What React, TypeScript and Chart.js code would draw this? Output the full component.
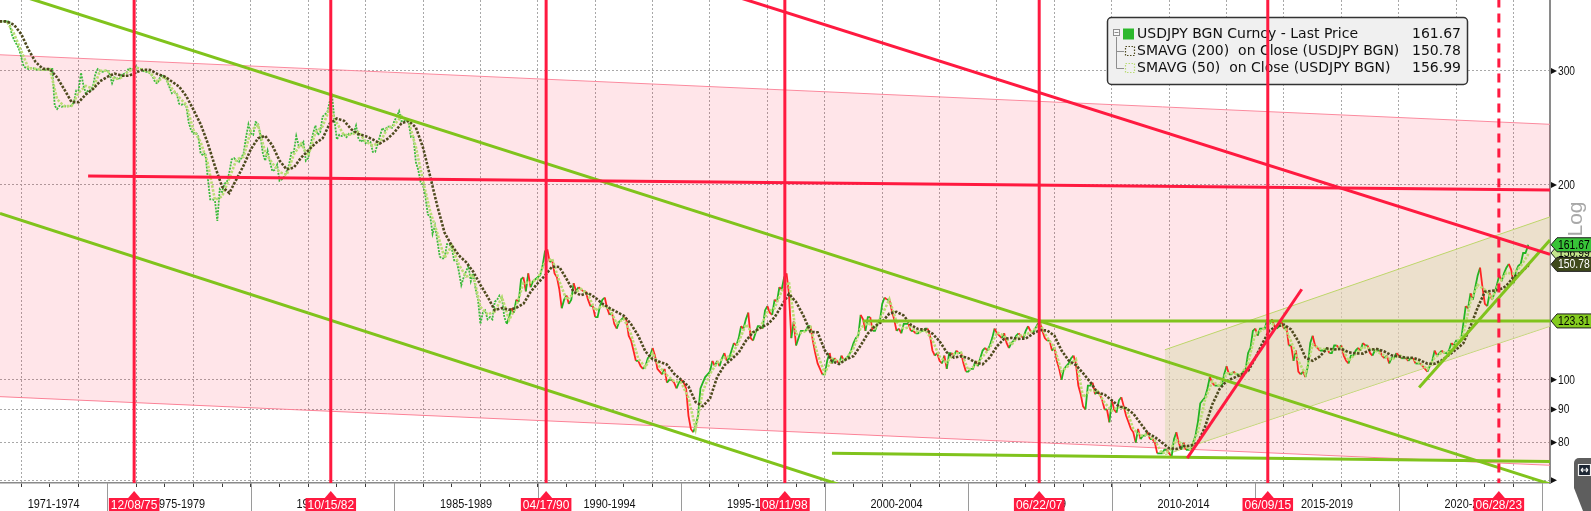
import React, { useEffect, useRef } from 'react';
import { Chart, registerables } from 'chart.js';

Chart.register(...registerables);

// ---------------- axes ----------------
const X_MIN = 1971.26;
const X_MAX = 2025.27;
const Y_MIN = 69.3;
const Y_MAX = 386;

const yTicks = [70, 80, 90, 100, 200, 300];
const yTickLabels = ['', '80', '90', '100', '200', '300'];

const periodBounds = [1971, 1975, 1980, 1985, 1990, 1995, 2000, 2005, 2010, 2015, 2020, 2025];
const periodLabels = ['1971-1974', '1975-1979', '1980-1984', '1985-1989', '1990-1994', '1995-1999', '2000-2004', '2005-2009', '2010-2014', '2015-2019', '2020-2024'];

const eventLabels = ['12/08/75', '10/15/82', '04/17/90', '08/11/98', '06/22/07', '06/09/15', '06/28/23'];
const eventYears = [1975.934, 1982.786, 1990.29, 1998.608, 2007.471, 2015.436, 2023.488];
const eventDashed = [false, false, false, false, false, false, true];

// ---------------- USDJPY month-end closes (from Mar 1971) ----------------
const PRICE_FIRST_MONTH = 1971.25;
const price1971to1979 = [
  357.7, 357.7, 357.7, 357.6, 357.4, 342, 335, 330, 325, 315,
  305, 303, 302, 303, 303, 301, 302, 301, 301, 301, 302, 302,
  302, 265, 262, 265, 264, 265, 264, 265, 265, 268, 280, 280,
  298, 285, 277, 280, 280, 284, 297, 302, 300, 299, 300, 301,
  296, 287, 293, 292, 291, 296, 297, 298, 303, 302, 302, 305,
  303, 302, 300, 299, 299, 297, 294, 288, 287, 293, 296, 293,
  289, 283, 277, 278, 277, 267, 266, 267, 265, 250, 243, 240,
  241, 238, 224, 222, 224, 205, 190, 190, 189, 176, 197, 195,
  201, 202, 209, 219, 220, 218, 217, 220, 224, 237, 248, 240,
];
const price1980to1989 = [
  239, 250, 249, 239, 224, 218, 226, 217, 210, 211, 215, 203,
  204, 206, 210, 215, 225, 225, 238, 230, 230, 233, 218, 220,
  231, 240, 247, 239, 241, 255, 257, 259, 269, 274, 251, 235,
  239, 238, 239, 237, 240, 240, 241, 247, 236, 233, 235, 232,
  234, 233, 225, 225, 231, 238, 245, 242, 246, 246, 245, 251,
  255, 260, 251, 251, 252, 249, 237, 237, 217, 211, 202, 200,
  192, 180, 179, 168, 173, 164, 155, 154, 154, 162, 162, 160,
  153, 153, 147, 140, 144, 147, 150, 142, 146, 138, 133, 122,
  127, 128, 124, 125, 124, 132, 133, 135, 134, 125, 122, 125,
  129, 127, 133, 132, 143, 144, 137, 146, 139, 142, 143, 144,
];
const price1990to1999 = [
  145, 150, 158, 159, 152, 153, 146, 144, 138, 129, 133, 135,
  131, 133, 141, 137, 139, 138, 137, 137, 133, 130, 130, 125,
  125, 130, 133, 134, 129, 126, 127, 122, 120, 123, 124, 125,
  124, 117, 115, 111, 107, 107, 105, 104, 105, 108, 109, 112,
  109, 104, 103, 102, 104, 99, 100, 100, 99, 97, 99, 100,
  99, 97, 88, 84, 83, 85, 88, 97, 99, 101, 102, 103,
  107, 105, 107, 105, 108, 110, 107, 108, 111, 114, 113, 116,
  121, 120, 124, 127, 116, 115, 118, 121, 121, 120, 128, 130,
  127, 126, 133, 132, 139, 138, 144, 146, 136, 116, 123, 113,
  116, 119, 119, 119, 121, 121, 115, 110, 106, 104, 102, 102,
];
const price2000to2009 = [
  107, 110, 106, 108, 107, 106, 109, 107, 108, 109, 111, 114,
  116, 117, 126, 124, 119, 125, 125, 119, 119, 122, 123, 131,
  134, 133, 133, 128, 124, 119, 120, 118, 122, 122, 122, 119,
  119, 118, 118, 119, 119, 120, 120, 117, 111, 109, 110, 107,
  106, 109, 104, 110, 110, 109, 111, 110, 110, 106, 103, 103,
  104, 104, 107, 105, 108, 111, 112, 111, 113, 116, 120, 118,
  117, 116, 118, 114, 112, 114, 115, 117, 118, 117, 116, 119,
  121, 119, 118, 120, 122, 123, 119, 116, 115, 115, 111, 112,
  107, 104, 100, 104, 105, 106, 108, 109, 106, 98, 95, 91,
  90, 98, 98, 99, 95, 96, 95, 93, 90, 90, 86, 93,
];
const price2010to2019 = [
  90, 89, 93, 94, 91, 88, 86, 84, 83, 80, 84, 81,
  82, 82, 83, 81, 81, 80, 77, 77, 77, 78, 78, 77,
  76, 81, 83, 80, 78, 80, 78, 78, 78, 80, 82, 86,
  92, 93, 94, 97, 101, 99, 98, 98, 98, 98, 102, 105,
  102, 102, 103, 102, 102, 101, 103, 104, 110, 112, 119, 120,
  117, 120, 120, 120, 124, 122, 124, 121, 120, 121, 123, 120,
  121, 113, 113, 107, 111, 103, 102, 103, 101, 105, 114, 117,
  113, 112, 111, 111, 111, 112, 110, 110, 113, 113, 112, 113,
  109, 107, 106, 109, 109, 111, 112, 111, 114, 113, 113, 110,
  109, 111, 111, 111, 109, 108, 109, 106, 108, 108, 110, 109,
];
const price2020to2024 = [
  108, 108, 108, 107, 108, 108, 106, 106, 106, 105, 104, 103,
  105, 107, 111, 109, 110, 111, 110, 110, 111, 114, 113, 115,
  115, 115, 122, 130, 129, 136, 133, 139, 145, 149, 139, 131,
  130, 136, 133, 136, 140, 145, 142, 146, 149, 151, 148, 141,
  147, 150, 151, 157, 157, 161,
];
const lastDate = 2024.51;
const lastPrice = 161.67;

// ---------------- moving averages, quarter-end (from Mar 1971) ----------------
const SMA_FIRST_QUARTER = 1971.25;
const sma200Quarterly = [
  357.7, 357.7, 353.4, 341.9, 323.8, 309.7, 302.3, 301.8, 293.1, 280.9, 268.6, 268.4,
  275.8, 281.3, 289.2, 293.7, 297.2, 295.0, 294.8, 298.4, 301.3, 301.0, 296.6, 294.0,
  288.9, 283.7, 274.3, 261.4, 248.2, 231.9, 213.7, 198.7, 194.3, 204.1, 214.4, 227.0,
  236.0, 238.2, 230.2, 218.1, 211.3, 212.7, 220.3, 226.0, 231.9, 236.0, 248.7, 253.3,
  251.2, 243.7, 239.7, 237.9, 235.1, 231.8, 235.4, 241.0, 249.0, 251.1, 245.4, 228.4,
  206.1, 185.4, 168.8, 161.3, 155.6, 152.0, 146.9, 140.2, 134.4, 128.1, 129.1, 128.3,
  129.2, 131.1, 136.7, 141.1, 144.9, 149.6, 149.4, 143.2, 136.7, 135.1, 136.2, 134.0,
  131.1, 129.1, 127.3, 125.6, 121.9, 117.0, 110.6, 107.6, 106.6, 105.6, 102.2, 100.0,
  97.7, 92.4, 91.1, 93.6, 101.0, 105.3, 107.6, 110.2, 114.9, 118.4, 120.3, 121.8,
  124.9, 130.3, 135.7, 131.9, 125.8, 118.6, 118.4, 111.1, 106.9, 105.8, 107.6, 108.8,
  113.0, 117.9, 121.1, 123.0, 126.6, 127.4, 125.7, 121.6, 119.8, 119.6, 117.9, 114.7,
  110.3, 108.2, 108.8, 108.0, 106.4, 105.7, 108.3, 112.7, 115.7, 116.1, 115.7, 115.8,
  117.8, 119.4, 119.2, 117.0, 111.0, 107.1, 105.4, 102.4, 99.2, 95.6, 94.9, 93.0,
  91.0, 90.4, 88.7, 85.7, 82.8, 81.6, 80.0, 78.4, 78.2, 79.0, 79.1, 80.0,
  84.6, 91.6, 96.7, 99.6, 100.7, 101.9, 103.2, 108.1, 113.9, 119.3, 120.9, 121.7,
  119.6, 114.7, 108.2, 107.0, 108.7, 111.8, 111.4, 111.7, 110.3, 109.9, 109.8, 111.3,
  111.6, 110.6, 109.1, 108.7, 108.2, 108.2, 107.2, 105.9, 105.9, 107.2, 109.3, 111.4,
  113.9, 121.0, 129.3, 136.8, 137.2, 137.7, 139.7, 144.2, 146.5, 149.9,
];
const sma50Quarterly = [
  357.7, 357.7, 342.3, 322.0, 303.0, 302.2, 301.2, 301.8, 271.2, 264.6, 264.8, 277.6,
  284.4, 281.6, 300.2, 300.2, 291.2, 293.2, 299.8, 303.2, 301.4, 298.2, 288.8, 294.2,
  281.8, 273.2, 266.0, 243.2, 233.0, 216.0, 189.6, 192.0, 204.6, 219.0, 221.0, 242.6,
  247.4, 224.6, 216.0, 209.4, 207.2, 223.0, 231.6, 221.8, 241.0, 246.2, 262.6, 249.2,
  238.6, 239.4, 241.4, 233.4, 230.0, 232.6, 244.2, 247.6, 255.4, 250.6, 229.0, 203.0,
  182.0, 168.4, 154.2, 161.2, 150.6, 144.4, 145.2, 129.6, 126.2, 127.4, 134.2, 123.8,
  129.8, 141.2, 141.4, 143.2, 152.2, 153.8, 142.0, 133.0, 135.8, 138.2, 135.4, 128.0,
  130.2, 128.8, 122.2, 124.2, 117.6, 107.8, 104.6, 110.0, 104.6, 101.6, 99.6, 99.0,
  93.8, 84.0, 96.0, 102.2, 106.2, 108.2, 109.0, 114.4, 121.8, 117.8, 120.4, 127.2,
  129.0, 137.2, 141.6, 117.6, 118.4, 120.6, 109.4, 102.4, 107.8, 106.8, 107.8, 111.8,
  120.4, 122.4, 120.2, 126.0, 133.2, 122.8, 120.0, 120.8, 118.2, 119.4, 115.2, 108.6,
  106.4, 109.6, 110.2, 103.6, 105.2, 108.6, 112.0, 118.4, 117.0, 113.2, 117.0, 117.4,
  119.0, 122.0, 116.2, 112.2, 103.0, 105.2, 107.6, 94.0, 96.4, 96.2, 92.2, 89.6,
  90.8, 90.4, 84.0, 82.0, 82.4, 80.6, 77.0, 77.6, 80.8, 79.2, 78.0, 83.2,
  93.2, 99.4, 98.0, 102.4, 102.4, 101.6, 106.2, 118.0, 119.4, 122.4, 121.2, 121.4,
  114.6, 107.0, 102.0, 113.4, 111.8, 111.4, 111.2, 112.6, 107.0, 109.8, 112.4, 111.8,
  110.6, 109.0, 107.4, 109.2, 108.0, 107.8, 106.0, 103.8, 108.2, 110.2, 110.4, 114.0,
  117.8, 132.0, 140.2, 137.8, 133.6, 141.2, 146.4, 145.8, 149.8, 155.9,
];
const lastSma200 = 150.78;
const lastSma50 = 156.99;

// ---------------- drawn trend lines: [year, price] ----------------
const pinkChannelTop = [[1971.26, 317.7], [2025.27, 248.1]];
const pinkChannelBottom = [[1971.26, 94.2], [2025.27, 73.8]];
const tanChannelTop = [[2011.85, 111.3], [2025.27, 178.5]];
const tanChannelBottom = [[2011.85, 76.6], [2025.27, 121.0]];
const greenUpperTrend = [[1971.26, 401.3], [2025.27, 69.06]];
const greenLowerTrend = [[1971.26, 180.7], [2001.0, 67.8]];
const greenResistance = [[2001.33, 123.31], [2025.27, 123.31]];
const greenFloor = [[2000.25, 77.06], [2025.27, 74.8]];
const greenRecentTrend = [[2020.71, 97.3], [2025.27, 164.5]];
const redFlatLine = [[1974.33, 206.4], [2025.27, 196.5]];
const redDownTrend = [[1995.65, 406.9], [2025.27, 156.2]];
const redRallyTrend = [[2012.63, 75.7], [2016.62, 138.0]];

// ---------------- legend & tags ----------------
const legendLabels = [
  'USDJPY BGN Curncy - Last Price',
  'SMAVG (200)  on Close (USDJPY BGN)',
  'SMAVG (50)  on Close (USDJPY BGN)',
];
const legendValues = ['161.67', '150.78', '156.99'];
const tagValues = [123.31, 156.99, 150.78, 161.67];
const tagFill = ['#84cc1f', '#c4e58c', '#3f4a1c', '#38c338'];
const tagText = ['#000', '#000', '#fff', '#000'];

// ---------------- colours ----------------
const RED = '#ff1a40';
const GREEN = '#80c31c';
const UP = '#22b422';
const DOWN = '#ff2424';
const EARLY = '#3cba3c';
const SMA200_COLOR = '#4e4a1e';
const SMA50_COLOR = '#b9dc74';

const toXY = (pairs: number[][]) => pairs.map(([x, y]) => ({ x, y }));

const allMonthly = [...price1971to1979, ...price1980to1989, ...price1990to1999, ...price2000to2009, ...price2010to2019, ...price2020to2024];
const priceData = [...allMonthly.map((v, i) => ({ x: PRICE_FIRST_MONTH + i / 12, y: v })), { x: lastDate, y: lastPrice }];
const sma200Data = [...sma200Quarterly.map((v, i) => ({ x: SMA_FIRST_QUARTER + i * 0.25, y: v })), { x: lastDate, y: lastSma200 }];
const sma50Data = [...sma50Quarterly.map((v, i) => ({ x: SMA_FIRST_QUARTER + i * 0.25, y: v })), { x: lastDate, y: lastSma50 }];

const yearTicks: number[] = [];
for (let y = 1972; y <= 2025; y++) yearTicks.push(y);

function lineDs(pairs: number[][], color: string, width: number, order: number, extra: any = {}) {
  return {
    type: 'line',
    data: toXY(pairs),
    borderColor: color,
    borderWidth: width,
    pointRadius: 0,
    fill: false,
    tension: 0,
    order,
    ...extra,
  };
}

function fontStr(size: number, fam = '"Liberation Sans", Arial, sans-serif') {
  return `${size}px ${fam}`;
}

function drawText(ctx: CanvasRenderingContext2D, text: string, x: number, y: number, size: number, sx: number, align: CanvasTextAlign, color: string) {
  ctx.save();
  ctx.translate(x, y);
  ctx.scale(sx, 1);
  ctx.font = fontStr(size);
  ctx.fillStyle = color;
  ctx.textAlign = align;
  ctx.textBaseline = 'middle';
  ctx.fillText(text, 0, 0);
  ctx.restore();
}

function drawLegendBox(ctx: CanvasRenderingContext2D) {
  const x0 = 1107.5, y0 = 17.5, w = 360, h = 67, r = 4;
  ctx.save();
  ctx.beginPath();
  ctx.moveTo(x0 + r, y0);
  ctx.lineTo(x0 + w - r, y0);
  ctx.arcTo(x0 + w, y0, x0 + w, y0 + r, r);
  ctx.lineTo(x0 + w, y0 + h - r);
  ctx.arcTo(x0 + w, y0 + h, x0 + w - r, y0 + h, r);
  ctx.lineTo(x0 + r, y0 + h);
  ctx.arcTo(x0, y0 + h, x0, y0 + h - r, r);
  ctx.lineTo(x0, y0 + r);
  ctx.arcTo(x0, y0, x0 + r, y0, r);
  ctx.closePath();
  ctx.fillStyle = '#f0f0f0';
  ctx.fill();
  ctx.lineWidth = 1.5;
  ctx.strokeStyle = '#333';
  ctx.stroke();

  const rows = [34, 51, 68];
  ctx.strokeStyle = '#8e8e8e';
  ctx.lineWidth = 1;
  ctx.beginPath();
  ctx.moveTo(1116.5, 37); ctx.lineTo(1116.5, 68.5);
  ctx.moveTo(1116.5, 51.5); ctx.lineTo(1124, 51.5);
  ctx.moveTo(1116.5, 68.5); ctx.lineTo(1124, 68.5);
  ctx.stroke();
  ctx.fillStyle = '#f8f8f8';
  ctx.fillRect(1113.5, 29.5, 6, 6);
  ctx.strokeRect(1113.5, 29.5, 6, 6);
  ctx.beginPath(); ctx.moveTo(1114.5, 32.5); ctx.lineTo(1118.5, 32.5); ctx.stroke();

  ctx.fillStyle = '#2cb82c';
  ctx.fillRect(1123, 28.5, 11, 11);
  ctx.lineWidth = 1.2;
  ctx.setLineDash([1.5, 1.5]);
  ctx.strokeStyle = SMA200_COLOR;
  ctx.strokeRect(1125.5, 46.5, 9, 9);
  ctx.strokeStyle = SMA50_COLOR;
  ctx.strokeRect(1125.5, 63.5, 9, 9);
  ctx.setLineDash([]);

  ctx.fillStyle = '#111';
  ctx.font = fontStr(14, '"DejaVu Sans", sans-serif');
  ctx.textAlign = 'left';
  ctx.textBaseline = 'middle';
  legendLabels.forEach((t, i) => ctx.fillText(t, 1137, rows[i]));
  legendValues.forEach((t, i) => ctx.fillText(t, 1412, rows[i]));
  ctx.restore();
}

function drawOverlay(chart: any) {
  const ctx: CanvasRenderingContext2D = chart.ctx;
  const xs = chart.scales.x;
  const ys = chart.scales.y;
  const area = chart.chartArea;
  const H = chart.height;
  const W = chart.width;
  ctx.save();

  // y tick arrows and labels
  ctx.fillStyle = '#111';
  yTicks.forEach((v, i) => {
    const py = ys.getPixelForValue(v);
    ctx.fillStyle = '#111';
    ctx.beginPath();
    ctx.moveTo(area.right + 1, py - 3);
    ctx.lineTo(area.right + 7, py);
    ctx.lineTo(area.right + 1, py + 3);
    ctx.closePath();
    ctx.fill();
    if (yTickLabels[i]) drawText(ctx, yTickLabels[i], area.right + 8, py + 0.5, 12, 0.85, 'left', '#111');
  });

  // period separators
  ctx.strokeStyle = '#9a9a9a';
  ctx.lineWidth = 1;
  periodBounds.slice(1).forEach((b) => {
    const px = Math.round(xs.getPixelForValue(b)) + 0.5;
    ctx.beginPath();
    ctx.moveTo(px, area.bottom);
    ctx.lineTo(px, H);
    ctx.stroke();
  });

  // period labels
  periodLabels.forEach((lab, i) => {
    const a = Math.max(periodBounds[i], X_MIN);
    const b = Math.min(periodBounds[i + 1], X_MAX);
    const px = (xs.getPixelForValue(a) + xs.getPixelForValue(b)) / 2;
    drawText(ctx, lab, px, 505, 12.5, 0.87, 'center', '#111');
  });

  // event flags
  ctx.font = fontStr(13);
  eventYears.forEach((d, i) => {
    const px = xs.getPixelForValue(d);
    const tw = ctx.measureText(eventLabels[i]).width * 0.92 + 4;
    ctx.fillStyle = RED;
    ctx.beginPath();
    ctx.moveTo(px, 491);
    ctx.lineTo(px + 6, 498);
    ctx.lineTo(px - 6, 498);
    ctx.closePath();
    ctx.fill();
    ctx.fillRect(px - tw / 2, 498, tw, H - 498);
    drawText(ctx, eventLabels[i], px, 505, 13, 0.92, 'center', '#fff');
    ctx.font = fontStr(13);
  });

  // value tags
  tagValues.forEach((v, i) => {
    const py = ys.getPixelForValue(v);
    const x = area.right + 1;
    const h = 14;
    ctx.beginPath();
    ctx.moveTo(x, py);
    ctx.lineTo(x + 6, py - h / 2);
    ctx.lineTo(W + 2, py - h / 2);
    ctx.lineTo(W + 2, py + h / 2);
    ctx.lineTo(x + 6, py + h / 2);
    ctx.closePath();
    ctx.fillStyle = tagFill[i];
    ctx.fill();
    ctx.strokeStyle = '#1e1e1e';
    ctx.lineWidth = 1;
    ctx.stroke();
    drawText(ctx, v.toFixed(2), x + 7, py + 0.5, 13, 0.8, 'left', tagText[i]);
  });

  // "Log" marker
  ctx.save();
  ctx.translate(1576, 219);
  ctx.rotate(-Math.PI / 2);
  ctx.fillStyle = '#a8a8a8';
  ctx.font = fontStr(21);
  ctx.textAlign = 'center';
  ctx.textBaseline = 'middle';
  ctx.fillText('Log', 0, 0);
  ctx.restore();

  // corner button
  ctx.fillStyle = '#5e5e5e';
  ctx.beginPath();
  ctx.moveTo(W, 458);
  ctx.lineTo(1579, 458);
  ctx.arcTo(1574, 458, 1574, 463, 5);
  ctx.lineTo(1574, 488);
  ctx.lineTo(1583, H);
  ctx.lineTo(W, H);
  ctx.closePath();
  ctx.fill();
  ctx.fillStyle = '#1d2633';
  ctx.strokeStyle = '#f2f2f2';
  ctx.lineWidth = 1.2;
  ctx.beginPath();
  ctx.rect(1578.5, 464.5, 12, 11);
  ctx.fill();
  ctx.stroke();
  ctx.beginPath();
  ctx.moveTo(1581, 470); ctx.lineTo(1588, 470);
  ctx.moveTo(1581, 470); ctx.lineTo(1583, 468);
  ctx.moveTo(1581, 470); ctx.lineTo(1583, 472);
  ctx.moveTo(1588, 470); ctx.lineTo(1586, 468);
  ctx.moveTo(1588, 470); ctx.lineTo(1586, 472);
  ctx.stroke();

  ctx.restore();
}

const overlayPlugin = {
  id: 'bbgOverlay',
  beforeDatasetsDraw(chart: any) {
    drawLegendBox(chart.ctx);
  },
  afterDraw(chart: any) {
    drawOverlay(chart);
  },
};

export default function App() {
  const canvasRef = useRef<HTMLCanvasElement>(null);

  useEffect(() => {
    const canvas = canvasRef.current;
    if (!canvas) return;

    const verticals = eventYears.map((d, i) => ({
      type: 'line',
      data: [{ x: d, y: 40 }, { x: d, y: 900 }],
      borderColor: RED,
      borderWidth: 3,
      borderDash: eventDashed[i] ? [9, 6] : [],
      pointRadius: 0,
      fill: false,
      order: 5,
    }));

    const datasets: any[] = [
      lineDs(pinkChannelTop, '#fb8a9e', 1, 100, { fill: '+1', backgroundColor: 'rgba(255,0,40,0.1)' }),
      lineDs(pinkChannelBottom, '#fb8a9e', 1, 101),
      lineDs(tanChannelTop, '#bdd66a', 1, 90, { fill: '+1', backgroundColor: 'rgba(224,220,186,0.62)' }),
      lineDs(tanChannelBottom, '#bdd66a', 1, 91),
      {
        type: 'line',
        data: priceData,
        borderWidth: 1.8,
        borderColor: UP,
        pointRadius: 0,
        tension: 0,
        fill: false,
        order: 50,
        segment: {
          borderColor: (c: any) => {
            const a = priceData[c.p0DataIndex];
            const b = priceData[c.p1DataIndex];
            if (a.x < 1988.9) return EARLY;
            return b.y >= a.y ? UP : DOWN;
          },
          borderDash: (c: any) => (priceData[c.p0DataIndex].x < 1988.9 ? [2, 1.2] : []),
        },
      },
      {
        type: 'line',
        data: sma50Data,
        borderColor: SMA50_COLOR,
        borderWidth: 2.6,
        borderDash: [2.5, 1.5],
        pointRadius: 0,
        tension: 0,
        fill: false,
        order: 45,
      },
      {
        type: 'line',
        data: sma200Data,
        borderColor: SMA200_COLOR,
        borderWidth: 2.6,
        borderDash: [2.5, 1.5],
        pointRadius: 0,
        tension: 0,
        fill: false,
        order: 40,
      },
      lineDs(greenUpperTrend, GREEN, 3, 20),
      lineDs(greenLowerTrend, GREEN, 3, 20),
      lineDs(greenResistance, GREEN, 3, 20),
      lineDs(greenFloor, GREEN, 3, 20),
      lineDs(greenRecentTrend, GREEN, 3, 20),
      lineDs(redFlatLine, RED, 3, 15),
      lineDs(redDownTrend, RED, 3, 15),
      lineDs(redRallyTrend, RED, 3, 15),
      ...verticals,
    ];

    const chart = new Chart(canvas, {
      type: 'line',
      data: { datasets },
      options: {
        animation: false,
        responsive: true,
        maintainAspectRatio: false,
        events: [],
        layout: { padding: 0, autoPadding: false },
        plugins: {
          legend: { display: false },
          tooltip: { enabled: false },
          title: { display: false },
        },
        scales: {
          x: {
            type: 'linear',
            position: 'bottom',
            min: X_MIN,
            max: X_MAX,
            afterBuildTicks: (s: any) => {
              s.ticks = yearTicks.map((v) => ({ value: v }));
            },
            afterFit: (s: any) => {
              s.height = 28;
              s.paddingLeft = 0;
              s.paddingRight = 0;
            },
            ticks: { display: false },
            grid: {
              color: (c: any) => (c.tick && Math.round(c.tick.value) % 2 === 0 ? '#a8a8a8' : 'rgba(0,0,0,0)'),
              lineWidth: 1,
              drawTicks: true,
              tickLength: 4,
              tickColor: '#3a3a3a',
              tickWidth: 1,
            },
            border: { display: true, color: '#8a8a8a', width: 1.5, dash: [2, 2] },
          },
          y: {
            type: 'logarithmic',
            position: 'right',
            min: Y_MIN,
            max: Y_MAX,
            afterBuildTicks: (s: any) => {
              s.ticks = yTicks.map((v) => ({ value: v }));
            },
            afterFit: (s: any) => {
              s.width = 41;
              s.paddingTop = 0;
              s.paddingBottom = 0;
            },
            ticks: { display: false },
            grid: { color: '#a8a8a8', lineWidth: 1, drawTicks: false },
            border: { display: true, color: '#8a8a8a', width: 2, dash: [2, 2] },
          },
        },
      } as any,
      plugins: [overlayPlugin],
    } as any);

    return () => chart.destroy();
  }, []);

  return (
    <div style={{ position: 'absolute', left: 0, top: 0, width: 1591, height: 511, background: '#ffffff' }}>
      <canvas ref={canvasRef} />
    </div>
  );
}
